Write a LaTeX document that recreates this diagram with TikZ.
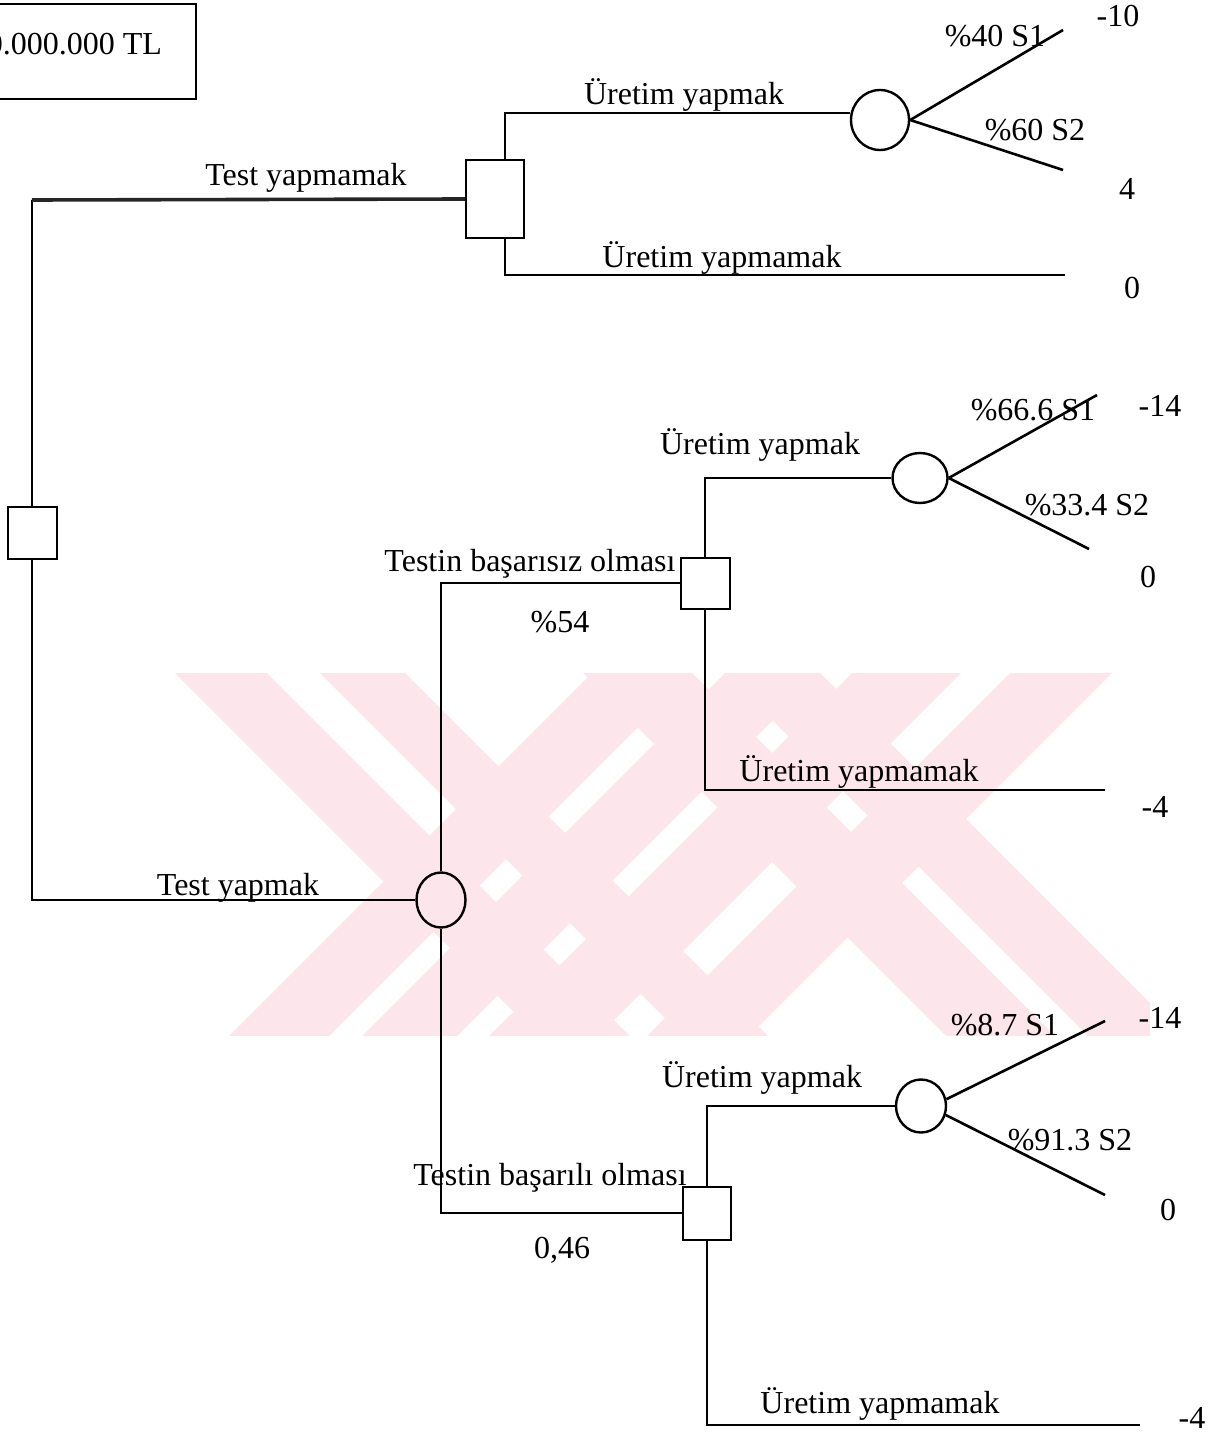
\documentclass[tikz,border=0pt]{standalone}
\usepackage{fontspec}
\setmainfont{Liberation Serif}
\usetikzlibrary{shapes.geometric}
\definecolor{wmpink}{RGB}{253,230,235}
\tikzset{
	decision/.style={draw, rectangle, line width=1pt, inner sep=0pt},
	chance/.style={draw, ellipse, line width=1.2pt, inner sep=0pt},
	branch/.style={line width=1pt},
	outcome/.style={line width=1.3pt},
	lbl/.style={anchor=base, inner sep=0pt, font=\fontsize{16pt}{19pt}\selectfont},
}

\begin{document}
\begin{tikzpicture}[x=0.5pt, y=-0.5pt]
	\useasboundingbox (0,0) rectangle (1216,1433);
	% watermark behind the tree
	\begin{scope}
		\clip (150,673) rectangle (1150,1035);
		\foreach \a/\b in {175/267, 320/405, 583/692, 725/820}
			\fill[wmpink] (\a,673) -- (\b,673) -- (\b+400,1073) -- (\a+400,1073) -- cycle;
		\foreach \a/\b in {592/692, 725/820, 852/961, 1010/1112}
			\fill[wmpink] (\a,673) -- (\b,673) -- (\b-400,1073) -- (\a-400,1073) -- cycle;
	\end{scope}
	% budget box, cut at the left edge
	\node[draw, line width=1pt, anchor=north east, minimum height=47.5pt, inner xsep=17pt,
		text depth=8pt, font=\fontsize{16pt}{19pt}\selectfont] (budget) at (197,3) {0.000.000 TL};
	% root decision
	\node[decision, minimum width=24.5pt, minimum height=26pt] (root) at (32,533) {};
	\node[decision, minimum width=29pt, minimum height=39pt] (d1) at (495,199) {};
	\node[chance, minimum width=24.5pt, minimum height=27.5pt] (c0) at (441,900) {};
	\coordinate (k1) at (32,200);
	\draw[branch, line width=1.2pt] (root.north) -- (k1);
	\draw[branch, line width=1.8pt, black!85] (k1) -- (d1.west);
	\draw[branch] (root.south) |- (c0.west);
	\node[lbl] (tno) at (306,186) {Test yapmamak};
	\node[lbl] (tyes) at (238,895) {Test yapmak};
	% no test: produce or not
	\node[chance, minimum width=29pt, minimum height=30pt] (e1) at (880,120) {};
	\coordinate (u1) at (505,113);
	\coordinate (u2) at (505,275);
	\coordinate (v1) at (1065,275);
	\draw[branch] (d1.north -| u1) -- (u1) -- (u1 -| e1.west);
	\draw[branch] (d1.south -| u2) -- (u2) -- (v1);
	\coordinate (s1a) at (1063,30);
	\coordinate (s1b) at (1063,170);
	\draw[outcome] (e1.east) -- (s1a);
	\draw[outcome] (e1.east) -- (s1b);
	\node[lbl] (p1) at (684,105) {Üretim yapmak};
	\node[lbl] (q1) at (722,268) {Üretim yapmamak};
	\node[lbl] (r1a) at (995,47) {\%40 S1};
	\node[lbl] (r1b) at (1035,141) {\%60 S2};
	\node[lbl] (o1a) at (1118,27) {-10};
	\node[lbl] (o1b) at (1127,200) {4};
	\node[lbl] (o1c) at (1132,299) {0};
	% test: result of the test
	\node[decision, minimum width=24.5pt, minimum height=25.5pt] (d2) at (705,583) {};
	\node[decision, minimum width=24pt, minimum height=26.5pt] (d3) at (707,1213) {};
	\draw[branch] (c0.north) |- (d2.west);
	\draw[branch] (c0.south) |- (d3.west);
	\node[lbl] (fail) at (530,571) {Testin başarısız olması};
	\node[lbl] (pfail) at (560,632) {\%54};
	\node[lbl] (pass) at (550,1185) {Testin başarılı olması};
	\node[lbl] (ppass) at (562,1258) {0,46};
	% failed test
	\node[chance, minimum width=27.5pt, minimum height=25pt] (e2) at (920,478) {};
	\coordinate (v2) at (1105,790);
	\draw[branch] (d2.north) |- (e2.west);
	\draw[branch] (d2.south) |- (v2);
	\coordinate (s2a) at (1097,395);
	\coordinate (s2b) at (1089,549);
	\draw[outcome] (e2.east) -- (s2a);
	\draw[outcome] (e2.east) -- (s2b);
	\node[lbl] (p2) at (760,454) {Üretim yapmak};
	\node[lbl] (q2) at (859,781) {Üretim yapmamak};
	\node[lbl] (r2a) at (1033,420) {\%66.6 S1};
	\node[lbl] (r2b) at (1087,515) {\%33.4 S2};
	\node[lbl] (o2a) at (1160,416) {-14};
	\node[lbl] (o2b) at (1148,587) {0};
	\node[lbl] (o2c) at (1155,817) {-4};
	% successful test
	\node[chance, minimum width=25pt, minimum height=26.5pt] (e3) at (921,1106) {};
	\coordinate (v3) at (1140,1425);
	\draw[branch] (d3.north) |- (e3.west);
	\draw[branch] (d3.south) |- (v3);
	\coordinate (s3a) at (1105,1021);
	\coordinate (s3b) at (1105,1195);
	\draw[outcome] (e3.15) -- (s3a);
	\draw[outcome] (e3.-20) -- (s3b);
	\node[lbl] (p3) at (762,1087) {Üretim yapmak};
	\node[lbl] (q3) at (880,1413) {Üretim yapmamak};
	\node[lbl] (r3a) at (1005,1035) {\%8.7 S1};
	\node[lbl] (r3b) at (1070,1150) {\%91.3 S2};
	\node[lbl] (o3a) at (1160,1028) {-14};
	\node[lbl] (o3b) at (1168,1220) {0};
	\node[lbl] (o3c) at (1192,1428) {-4};
\end{tikzpicture}
\end{document}
